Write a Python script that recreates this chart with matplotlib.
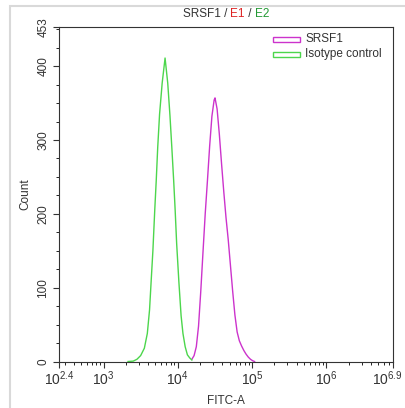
import numpy as np
import matplotlib
matplotlib.use('Agg')
import matplotlib.pyplot as plt
import matplotlib.transforms as mtransforms
from matplotlib.patches import Rectangle
from matplotlib.ticker import FixedLocator, NullFormatter

plt.rcParams['font.family'] = 'Liberation Sans'
plt.rcParams['mathtext.fontset'] = 'custom'
plt.rcParams['mathtext.rm'] = 'Liberation Sans'
plt.rcParams['mathtext.it'] = 'Liberation Sans'

# histogram outlines (log10 FITC-A, count)
iso_log = [3.33, 3.40, 3.45, 3.50, 3.55, 3.59, 3.62, 3.64, 3.665, 3.69, 3.71, 3.73,
           3.755, 3.79, 3.829, 3.865, 3.895, 3.92, 3.945, 3.965, 3.985, 4.015,
           4.045, 4.07, 4.10, 4.13, 4.16, 4.19]
iso_cnt = [0, 0.5, 3, 8, 18, 38, 70, 106, 150, 205, 245, 290,
           335, 377, 411, 377, 333, 290, 245, 205, 160, 108,
           62, 38, 20, 9, 5, 2]
srsf_log = [4.19, 4.22, 4.25, 4.28, 4.31, 4.34, 4.37, 4.40, 4.43, 4.46, 4.49, 4.502,
            4.53, 4.56, 4.59, 4.62, 4.65, 4.68, 4.71, 4.74, 4.77, 4.80, 4.83,
            4.86, 4.89, 4.92, 4.95, 4.98, 5.01, 5.035]
srsf_cnt = [3, 8, 20, 48, 95, 148, 200, 245, 292, 332, 354, 357,
            342, 308, 268, 230, 195, 165, 130, 95, 63, 40, 28,
            21, 15, 10, 6, 3, 1, 0]

x_major = [2.4, 3, 4, 5, 6, 6.9]
x_labels = ['2.4', '3', '4', '5', '6', '6.9']
y_major = [0, 100, 200, 300, 400, 453]

magenta = '#cc33cc'
green = '#4cd64c'
txt = '#333333'

fig = plt.figure(figsize=(4.05, 4.08), dpi=100)
fig.patches.append(Rectangle((10 / 405, -0.1), 1.2, (408 - 6) / 408 + 0.1,
                             transform=fig.transFigure, fill=False,
                             edgecolor='#d9d9d9', linewidth=1.5))
ax = fig.add_axes([59 / 405, (408 - 361.5) / 408, 334 / 405, 334.5 / 408])

ax.plot(10 ** np.array(srsf_log), srsf_cnt, color=magenta, lw=1.0)
ax.plot(10 ** np.array(iso_log), iso_cnt, color=green, lw=1.0)

ax.set_xscale('log')
ax.set_xlim(10 ** 2.4, 10 ** 6.9)
ax.set_ylim(0, 453)

ax.xaxis.set_major_locator(FixedLocator([10 ** v for v in x_major]))
ax.set_xticklabels(['$10^{%s}$' % s for s in x_labels])
minors = [m * 10 ** d for d in range(2, 7) for m in range(2, 10)
          if 10 ** 2.4 < m * 10 ** d < 10 ** 6.9]
ax.xaxis.set_minor_locator(FixedLocator(minors))
ax.xaxis.set_minor_formatter(NullFormatter())

ax.set_yticks(y_major)
ax.set_yticklabels([str(v) for v in y_major], rotation=90, va='center')
ax.set_yticks(np.arange(25, 453, 25), minor=True)

ax.tick_params(axis='both', which='major', direction='out', length=4, width=0.8,
               labelsize=8.5, colors=txt, pad=3)
ax.tick_params(axis='both', which='minor', direction='out', length=2.5, width=0.6)
ax.tick_params(axis='x', which='major', labelsize=10, pad=2)
for sp in ax.spines.values():
    sp.set_color(txt)
    sp.set_linewidth(0.8)

# last x label sits against the right edge, nudge it in a little
last = ax.get_xticklabels()[-1]
last.set_transform(last.get_transform() +
                   mtransforms.ScaledTranslation(-6 / 100, 0, fig.dpi_scale_trans))

ax.set_xlabel('FITC-A', fontsize=8.5, color=txt, labelpad=5)
ax.set_ylabel('Count', fontsize=8.5, color=txt, labelpad=4)

# legend boxes
lx0, lx1 = 273 / 405, 300 / 405
for i, (lab, col) in enumerate([('SRSF1', magenta), ('Isotype control', green)]):
    yc = (408 - (39.5 + i * 15)) / 408
    fig.patches.append(Rectangle((lx0, yc - 2.5 / 408), lx1 - lx0, 5 / 408,
                                 transform=fig.transFigure, fill=False,
                                 edgecolor=col, linewidth=1.0))
    fig.text(305 / 405, yc, lab, fontsize=8.5, color=txt, va='center')

# multi-colour title
parts = [('SRSF1 / ', txt), ('E1', '#dd2222'), (' / ', txt), ('E2', '#229933')]
fig.canvas.draw()
r = fig.canvas.get_renderer()
texts = []
widths = []
for s, c in parts:
    t = fig.text(0, (408 - 14) / 408, s, fontsize=8.5, color=c, va='center')
    widths.append(t.get_window_extent(r).width)
    texts.append(t)
x = 226 - sum(widths) / 2
for t, w in zip(texts, widths):
    t.set_x(x / 405)
    x += w

fig.savefig('out.png', dpi=100)
